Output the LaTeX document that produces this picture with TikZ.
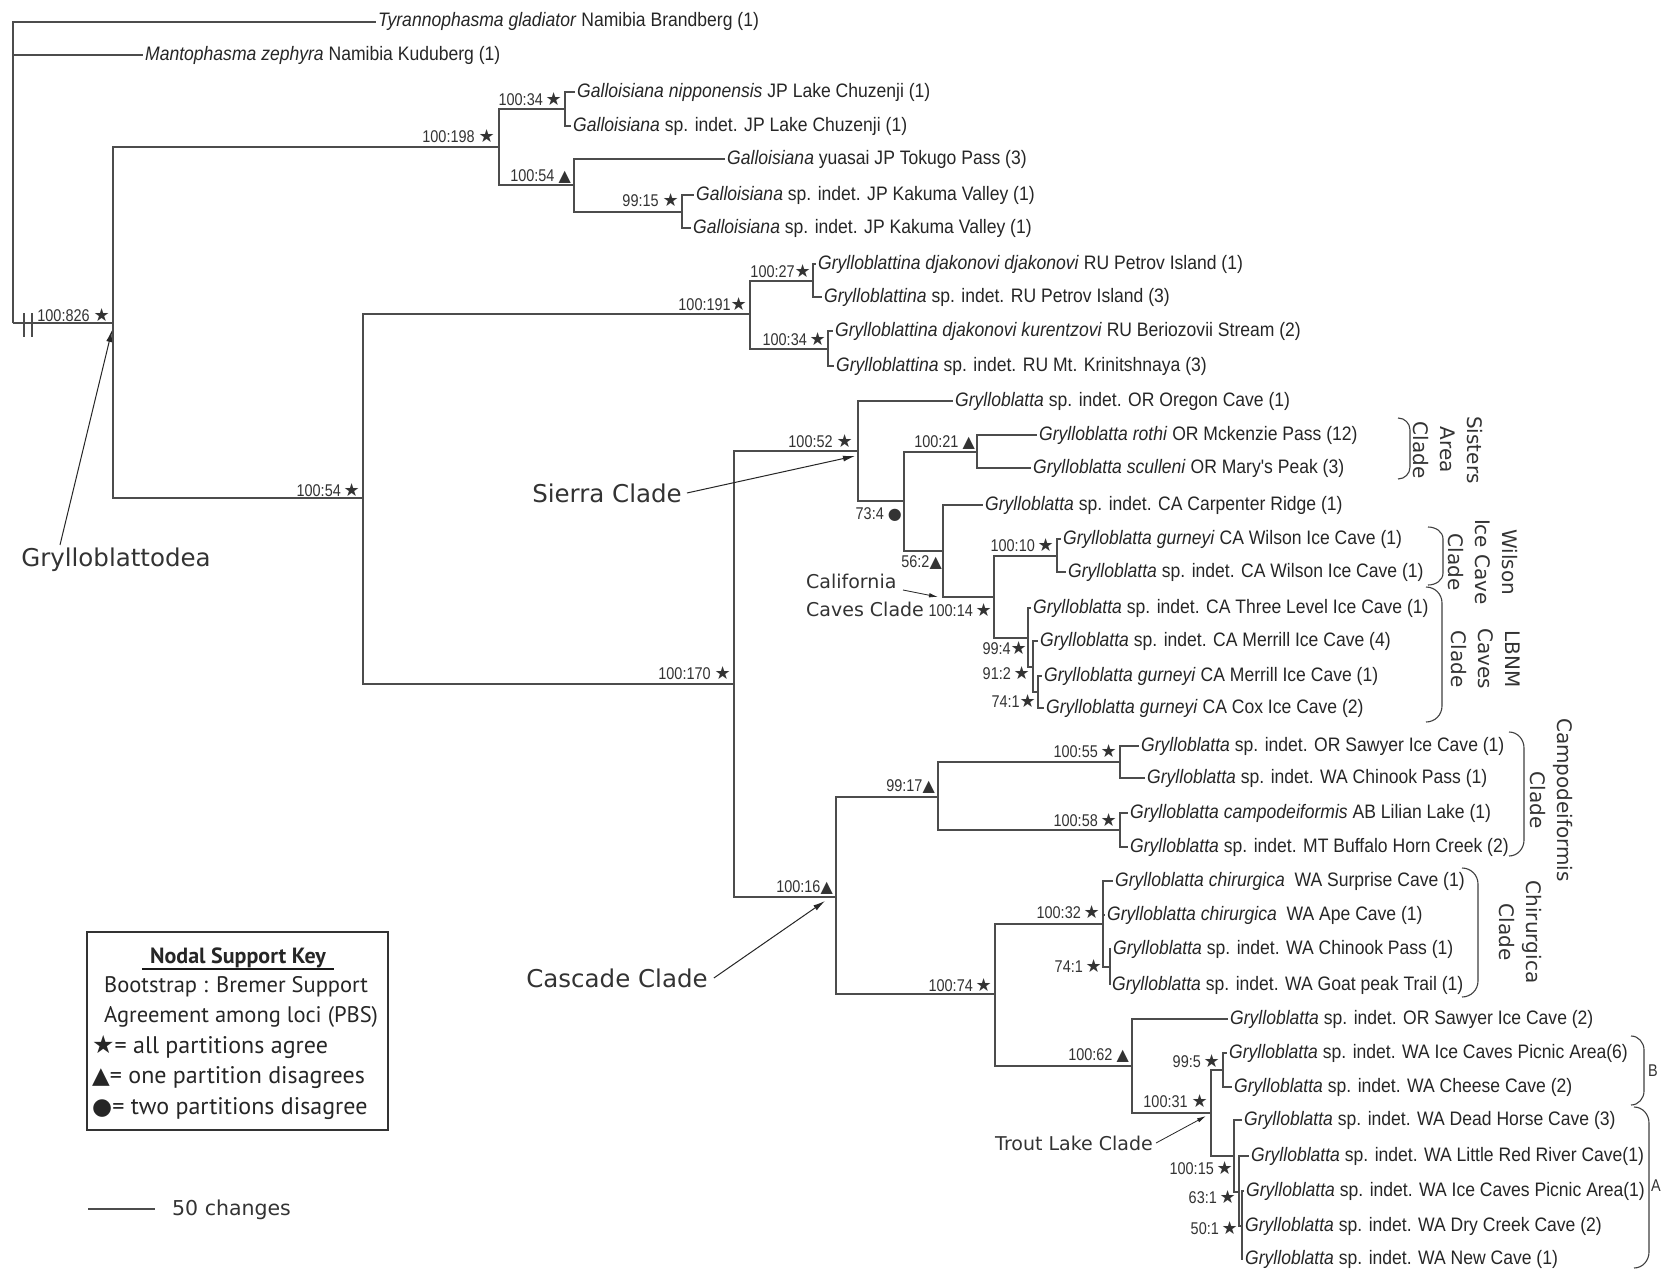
\documentclass[tikz,border=0pt]{standalone}
\usepackage{fontspec}
\newfontfamily\taxfont{Liberation Sans}[FakeStretch=0.9]
\newfontfamily\suppfont{Liberation Sans}[FakeStretch=0.85]
\newfontfamily\annfont{DejaVu Sans}
\newfontfamily\keyfont{PT Sans}
\newfontfamily\symfont{DejaVu Sans}
\usetikzlibrary{positioning,arrows.meta}
\newcommand\stsym{{\symfont\fontsize{18}{15}\selectfont ★}}
\newcommand\trsym{{\symfont\fontsize{16}{15}\selectfont ▲}}
\newcommand\dtsym{{\symfont\fontsize{16}{15}\selectfont ●}}

\begin{document}
\begin{tikzpicture}
[x=1pt,y=-1pt,
br/.style={line width=1.2pt,draw=black!70},
brk/.style={line width=1.1pt,draw=black!75},
taxon/.style={anchor=west,inner sep=2pt,text=black!85,text height=13pt,text depth=3pt,
  font=\taxfont\fontsize{19.5}{19.5}\selectfont},
supp/.style={anchor=east,inner sep=0pt,text=black!80,font=\suppfont\fontsize{17}{17}\selectfont},
ann/.style={inner sep=0pt,text=black!80,font=\annfont\fontsize{24.5}{26}\selectfont},
smallann/.style={inner sep=0pt,text=black!80,align=left,font=\annfont\fontsize{19}{28}\selectfont},
cladelab/.style={inner sep=0pt,text=black!80,rotate=-90,align=center,font=\annfont\fontsize{20}{27}\selectfont},
keytext/.style={anchor=west,inner sep=0pt,text=black!85,text height=15pt,text depth=4pt,font=\keyfont\fontsize{22.5}{22.5}\selectfont},
arr/.style={-{Latex[length=12pt,width=6pt]},line width=1pt,draw=black!85}]
\fill[white] (0,0) rectangle (1663,1274);

\coordinate (root) at (13,323);
\coordinate (gin) at (113,323);
\coordinate (n198) at (499,147);
\coordinate (n34a) at (565,109);
\coordinate (n54a) at (574,185);
\coordinate (n15a) at (682,212);
\coordinate (n54b) at (363,498);
\coordinate (n191) at (750,314);
\coordinate (n27) at (813,281);
\coordinate (n34b) at (828,349);
\coordinate (n170) at (734,684);
\coordinate (n52) at (858,451);
\coordinate (n73) at (904,501);
\coordinate (n21) at (977,452);
\coordinate (n56) at (943,551);
\coordinate (n14) at (994,597);
\coordinate (n10) at (1057,556);
\coordinate (n99) at (1028,638);
\coordinate (n91) at (1033,667);
\coordinate (n74a) at (1038,692);
\coordinate (n16) at (836,897);
\coordinate (n17) at (938,797);
\coordinate (n55) at (1120,762);
\coordinate (n58) at (1120,830);
\coordinate (n74) at (995,994);
\coordinate (n32) at (1103,924);
\coordinate (n74b) at (1110,967);
\coordinate (n62) at (1132,1066);
\coordinate (n31) at (1211,1113);
\coordinate (n5) at (1223,1070);
\coordinate (n15) at (1234,1156);
\coordinate (n63) at (1239,1192);
\coordinate (n50) at (1242,1226);

\node[taxon] (t1) at (376,22) {\textit{Tyrannophasma gladiator} Namibia Brandberg (1)};
\node[taxon] (t2) at (143,55) {\textit{Mantophasma zephyra} Namibia Kuduberg (1)};
\node[taxon] (t3) at (575,92) {\textit{Galloisiana nipponensis} JP Lake Chuzenji (1)};
\node[taxon] (t4) at (571,126) {\textit{Galloisiana} sp. indet. JP Lake Chuzenji (1)};
\node[taxon] (t5) at (725,159) {\textit{Galloisiana} yuasai JP Tokugo Pass (3)};
\node[taxon] (t6) at (694,195) {\textit{Galloisiana} sp. indet. JP Kakuma Valley (1)};
\node[taxon] (t7) at (691,228) {\textit{Galloisiana} sp. indet. JP Kakuma Valley (1)};
\node[taxon] (t8) at (816,264) {\textit{Grylloblattina djakonovi djakonovi} RU Petrov Island (1)};
\node[taxon] (t9) at (822,297) {\textit{Grylloblattina} sp. indet. RU Petrov Island (3)};
\node[taxon] (t10) at (833,331) {\textit{Grylloblattina djakonovi kurentzovi} RU Beriozovii Stream (2)};
\node[taxon] (t11) at (834,366) {\textit{Grylloblattina} sp. indet. RU Mt. Krinitshnaya (3)};
\node[taxon] (t12) at (953,401) {\textit{Grylloblatta} sp. indet. OR Oregon Cave (1)};
\node[taxon] (t13) at (1037,435) {\textit{Grylloblatta rothi} OR Mckenzie Pass (12)};
\node[taxon] (t14) at (1031,468) {\textit{Grylloblatta sculleni} OR Mary's Peak (3)};
\node[taxon] (t15) at (983,505) {\textit{Grylloblatta} sp. indet. CA Carpenter Ridge (1)};
\node[taxon] (t16) at (1061,539) {\textit{Grylloblatta gurneyi} CA Wilson Ice Cave (1)};
\node[taxon] (t17) at (1066,572) {\textit{Grylloblatta} sp. indet. CA Wilson Ice Cave (1)};
\node[taxon] (t18) at (1031,608) {\textit{Grylloblatta} sp. indet. CA Three Level Ice Cave (1)};
\node[taxon] (t19) at (1038,641) {\textit{Grylloblatta} sp. indet. CA Merrill Ice Cave (4)};
\node[taxon] (t20) at (1042,676) {\textit{Grylloblatta gurneyi} CA Merrill Ice Cave (1)};
\node[taxon] (t21) at (1044,708) {\textit{Grylloblatta gurneyi} CA Cox Ice Cave (2)};
\node[taxon] (t22) at (1139,746) {\textit{Grylloblatta} sp. indet. OR Sawyer Ice Cave (1)};
\node[taxon] (t23) at (1145,778) {\textit{Grylloblatta} sp. indet. WA Chinook Pass (1)};
\node[taxon] (t24) at (1128,813) {\textit{Grylloblatta campodeiformis} AB Lilian Lake (1)};
\node[taxon] (t25) at (1128,847) {\textit{Grylloblatta} sp. indet. MT Buffalo Horn Creek (2)};
\node[taxon] (t26) at (1113,881) {\textit{Grylloblatta chirurgica}\ \ WA Surprise Cave (1)};
\node[taxon] (t27) at (1105,915) {\textit{Grylloblatta chirurgica}\ \ WA Ape Cave (1)};
\node[taxon] (t28) at (1111,949) {\textit{Grylloblatta} sp. indet. WA Chinook Pass (1)};
\node[taxon] (t29) at (1110,985) {\textit{Grylloblatta} sp. indet. WA Goat peak Trail (1)};
\node[taxon] (t30) at (1228,1019) {\textit{Grylloblatta} sp. indet. OR Sawyer Ice Cave (2)};
\node[taxon] (t31) at (1227,1053) {\textit{Grylloblatta} sp. indet. WA Ice Caves Picnic Area(6)};
\node[taxon] (t32) at (1232,1087) {\textit{Grylloblatta} sp. indet. WA Cheese Cave (2)};
\node[taxon] (t33) at (1242,1120) {\textit{Grylloblatta} sp. indet. WA Dead Horse Cave (3)};
\node[taxon] (t34) at (1249,1156) {\textit{Grylloblatta} sp. indet. WA Little Red River Cave(1)};
\node[taxon] (t35) at (1244,1191) {\textit{Grylloblatta} sp. indet. WA Ice Caves Picnic Area(1)};
\node[taxon] (t36) at (1243,1226) {\textit{Grylloblatta} sp. indet. WA Dry Creek Cave (2)};
\node[taxon] (t37) at (1243,1259) {\textit{Grylloblatta} sp. indet. WA New Cave (1)};

\draw[br] (root) |- (t1.west); \draw[br] (root) |- (t2.west); \draw[br] (root) -- (gin);
\draw[br] (24,313) -- (24,337) (32,313) -- (32,337);
\draw[br] (gin) |- (n198); \draw[br] (gin) |- (n54b);
\draw[br] (n198) |- (n34a); \draw[br] (n198) |- (n54a);
\draw[br] (n34a) |- (t3.west); \draw[br] (n34a) |- (t4.west);
\draw[br] (n54a) |- (t5.west); \draw[br] (n54a) |- (n15a);
\draw[br] (n15a) |- (t6.west); \draw[br] (n15a) |- (t7.west);
\draw[br] (n54b) |- (n191); \draw[br] (n54b) |- (n170);
\draw[br] (n191) |- (n27); \draw[br] (n191) |- (n34b);
\draw[br] (n27) |- (t8.west); \draw[br] (n27) |- (t9.west);
\draw[br] (n34b) |- (t10.west); \draw[br] (n34b) |- (t11.west);
\draw[br] (n170) |- (n52); \draw[br] (n170) |- (n16);
\draw[br] (n52) |- (t12.west); \draw[br] (n52) |- (n73);
\draw[br] (n73) |- (n21); \draw[br] (n73) |- (n56);
\draw[br] (n21) |- (t13.west); \draw[br] (n21) |- (t14.west);
\draw[br] (n56) |- (t15.west); \draw[br] (n56) |- (n14);
\draw[br] (n14) |- (n10); \draw[br] (n14) |- (n99);
\draw[br] (n10) |- (t16.west); \draw[br] (n10) |- (t17.west);
\draw[br] (n99) |- (t18.west); \draw[br] (n99) |- (n91);
\draw[br] (n91) |- (t19.west); \draw[br] (n91) |- (n74a);
\draw[br] (n74a) |- (t20.west); \draw[br] (n74a) |- (t21.west);
\draw[br] (n16) |- (n17); \draw[br] (n16) |- (n74);
\draw[br] (n17) |- (n55); \draw[br] (n17) |- (n58);
\draw[br] (n55) |- (t22.west); \draw[br] (n55) |- (t23.west);
\draw[br] (n58) |- (t24.west); \draw[br] (n58) |- (t25.west);
\draw[br] (n74) |- (n32); \draw[br] (n74) |- (n62);
\draw[br] (n32) |- (t26.west); \draw[br] (n32) |- (t27.west); \draw[br] (n32) |- (n74b);
\draw[br] (n74b) |- (t28.west); \draw[br] (n74b) |- (t29.west);
\draw[br] (n62) |- (t30.west); \draw[br] (n62) |- (n31);
\draw[br] (n31) |- (n5); \draw[br] (n31) |- (n15);
\draw[br] (n5) |- (t31.west); \draw[br] (n5) |- (t32.west);
\draw[br] (n15) |- (t33.west); \draw[br] (n15) |- (n63);
\draw[br] (n63) |- (t34.west); \draw[br] (n63) |- (n50);
\draw[br] (n50) |- (t35.west); \draw[br] (n50) |- (t36.west); \draw[br] (n50) |- (t37.west);

\node[supp] (s826) at (110,315) {100:826 \stsym};
\node[supp] (s198) at (495,136) {100:198 \stsym};
\node[supp] (s34a) at (562,99) {100:34\,\stsym};
\node[supp] (s54a) at (571,177) {100:54 \trsym};
\node[supp] (s15a) at (679,200) {99:15 \stsym};
\node[supp] (s54b) at (360,490) {100:54\,\stsym};
\node[supp] (s191) at (747,304) {100:191\stsym};
\node[supp] (s27) at (811,271) {100:27\stsym};
\node[supp] (s34b) at (826,339) {100:34\,\stsym};
\node[supp] (s170) at (731,673) {100:170 \stsym};
\node[supp] (s52) at (853,441) {100:52 \stsym};
\node[supp] (s73) at (902,515) {73:4 \dtsym};
\node[supp] (s21) at (975,443) {100:21 \trsym};
\node[supp] (s56) at (942,563) {56:2\trsym};
\node[supp] (s14) at (992,610) {100:14\,\stsym};
\node[supp] (s10) at (1054,545) {100:10\,\stsym};
\node[supp] (s99) at (1027,648) {99:4\stsym};
\node[supp] (s91) at (1030,673) {91:2\,\stsym};
\node[supp] (s74a) at (1036,701) {74:1\stsym};
\node[supp] (s16) at (833,888) {100:16\trsym};
\node[supp] (s17) at (935,787) {99:17\trsym};
\node[supp] (s55) at (1117,751) {100:55\,\stsym};
\node[supp] (s58) at (1117,820) {100:58\,\stsym};
\node[supp] (s74) at (992,985) {100:74\,\stsym};
\node[supp] (s32) at (1100,912) {100:32\,\stsym};
\node[supp] (s74b) at (1102,966) {74:1\,\stsym};
\node[supp] (s62) at (1129,1056) {100:62 \trsym};
\node[supp] (s31) at (1208,1101) {100:31 \stsym};
\node[supp] (s5) at (1220,1061) {99:5\,\stsym};
\node[supp] (s15) at (1233,1168) {100:15\,\stsym};
\node[supp] (s63) at (1236,1197) {63:1\,\stsym};
\node[supp] (s50) at (1238,1228) {50:1\,\stsym};

\node[ann] (gryl) at (116,560) {Grylloblattodea};
\node[ann] (sierra) at (607,493) {Sierra Clade};
\node[ann] (cascade) at (617,978) {Cascade Clade};
\node[smallann,anchor=north west] (calif) at (806,574) {California\\Caves Clade};
\node[smallann,font=\annfont\fontsize{19}{19}\selectfont] (trout) at (1074,1143) {Trout Lake Clade};
\coordinate (grylTip) at (112,330);
\coordinate (sierraTip) at (855,456);
\coordinate (califTip) at (938,597);
\coordinate (cascTip) at (825,901);
\coordinate (troutTip) at (1206,1116);
\draw[arr] ([xshift=-56pt,yshift=3pt]gryl.north) -- (grylTip);
\draw[arr] ([xshift=5pt]sierra.east) -- (sierraTip);
\draw[arr,line width=0.8pt,-{Latex[length=9pt,width=4.5pt]}] (903,590) -- (califTip);
\draw[arr] ([xshift=6pt]cascade.east) -- (cascTip);
\draw[arr,line width=0.8pt,-{Latex[length=9pt,width=4.5pt]}] ([xshift=3pt]trout.east) -- (troutTip);

\draw[brk] (1398,418) to[out=0,in=90] (1410,430) -- (1410,467) to[out=-90,in=0] (1398,479);
\draw[brk] (1428,527) to[out=0,in=90] (1443,539) -- (1443,573) to[out=-90,in=0] (1428,585);
\draw[brk] (1426,587) to[out=0,in=90] (1442,603) -- (1442,706) to[out=-90,in=0] (1426,722);
\draw[brk] (1509,732) to[out=0,in=90] (1524,748) -- (1524,840) to[out=-90,in=0] (1509,856);
\draw[brk] (1462,868) to[out=0,in=90] (1478,884) -- (1478,981) to[out=-90,in=0] (1462,997);
\draw[brk] (1631,1036) to[out=0,in=90] (1644,1050) -- (1644,1091) to[out=-90,in=0] (1631,1105);
\draw[brk] (1634,1107) to[out=0,in=90] (1649,1123) -- (1649,1252) to[out=-90,in=0] (1634,1268);
\node[cladelab] (sisters) at (1448,450) {Sisters\\Area\\Clade};
\node[cladelab] (wilson) at (1483,562) {Wilson\\Ice Cave\\Clade};
\node[cladelab] (lbnm) at (1486,659) {LBNM\\Caves\\Clade};
\node[cladelab] (campo) at (1551,800) {Campodeiformis\\Clade};
\node[cladelab] (chir) at (1520,932) {Chirurgica\\Clade};
\node[supp,anchor=center,font=\suppfont\fontsize{17}{17}\selectfont] (gB) at (1653,1071) {B};
\node[supp,anchor=center,font=\suppfont\fontsize{17}{17}\selectfont] (gA) at (1656,1186) {A};

\node[draw=black!80,line width=1.3pt,minimum width=301pt,minimum height=198pt,inner sep=0pt] (key) at (237.5,1031) {};
\node[keytext,anchor=center,font=\keyfont\bfseries\fontsize{22}{22}\selectfont] (keyhead) at (238,958) {Nodal Support Key};
\draw[line width=2.2pt,black!90] ([xshift=-8pt,yshift=-1pt]keyhead.south west) -- ([xshift=8pt,yshift=-1pt]keyhead.south east);
\node[keytext] (boot) at (104,987) {Bootstrap : Bremer Support};
\node[keytext] (agree) at (104,1017) {Agreement among loci (PBS)};
\node[keytext,font=\keyfont\fontsize{24}{24}\selectfont] (kstar) at (92,1048) {{\symfont\fontsize{25}{20}\selectfont ★}= all partitions agree};
\node[keytext,font=\keyfont\fontsize{24}{24}\selectfont] (ktri) at (92,1078) {{\symfont\fontsize{23}{20}\selectfont ▲}= one partition disagrees};
\node[keytext,font=\keyfont\fontsize{24}{24}\selectfont] (kdot) at (92,1109) {{\symfont\fontsize{23}{20}\selectfont ●}= two partitions disagree};

\coordinate (bar0) at (88,1209);
\coordinate (bar1) at (155,1209);
\draw[line width=1.1pt,black!70] (bar0) -- (bar1);
\node[anchor=west,inner sep=0pt,text=black!80,font=\annfont\fontsize{20.5}{21}\selectfont] (barlab) at (172,1210) {50 changes};
\end{tikzpicture}
\end{document}
